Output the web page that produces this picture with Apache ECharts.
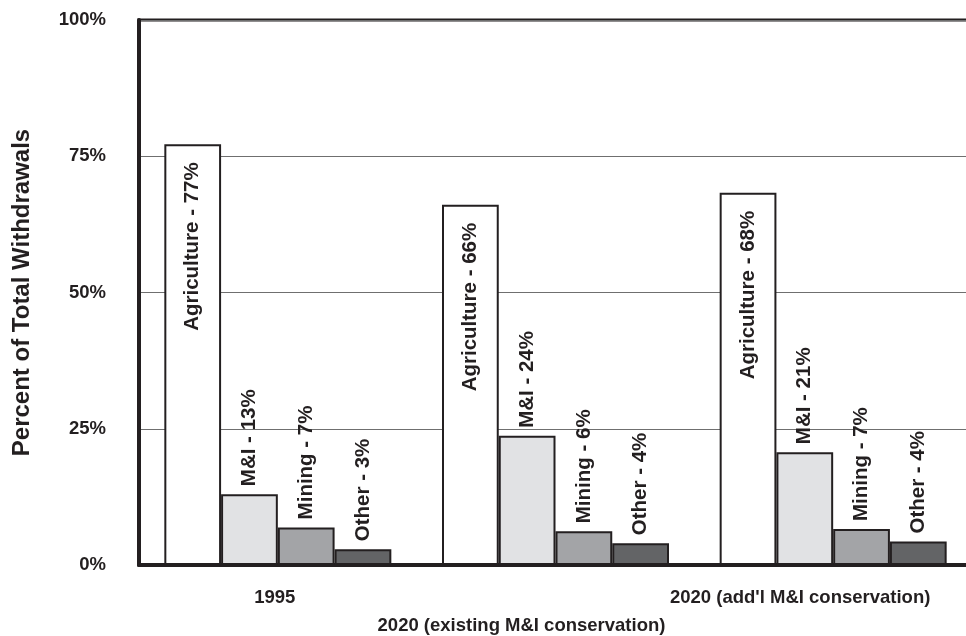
<!DOCTYPE html>
<html>
<head>
<meta charset="utf-8">
<script src="https://cdn.jsdelivr.net/npm/echarts@6/dist/echarts.min.js"></script>
<style>
  html, body { margin: 0; padding: 0; background: #ffffff; }
  #chart { width: 966px; height: 636px; }
</style>
</head>
<body>
<div id="chart"></div>
<script>
// ---- data ----
const categories = ['1995', '2020 (existing M&I conservation)', "2020 (add'l M&I conservation)"];
const agriculture = [77.2, 66.1, 68.3];
const mandi = [13.0, 23.7, 20.7];
const mining = [6.9, 6.2, 6.6];
const other = [2.9, 4.0, 4.3];
const yTicks = [0, 25, 50, 75, 100];
const yTitle = 'Percent of Total Withdrawals';

const FONT = '"Liberation Sans", Arial, Helvetica, sans-serif';
const INK = '#231f20';

function labelText(p) {
  return p.seriesName + ' - ' + Math.round(p.value) + '%';
}

const outsideLabel = {
  show: true,
  position: 'top',
  distance: 8,
  rotate: 90,
  align: 'left',
  verticalAlign: 'middle',
  formatter: labelText,
  fontFamily: FONT,
  fontWeight: 'bold',
  fontSize: 20.5,
  color: INK
};

function makeSeries(name, data, color, label) {
  return {
    type: 'bar',
    name: name,
    data: data,
    barWidth: 56.75,
    barGap: '0%',
    itemStyle: { color: color, borderColor: INK, borderWidth: 2 },
    label: label,
    emphasis: { disabled: true },
    z: 3
  };
}

const chart = echarts.init(document.getElementById('chart'), null, { renderer: 'canvas' });
chart.setOption({
  animation: false,
  backgroundColor: '#ffffff',
  grid: {
    left: 139, top: 20, width: 833, height: 545,
    containLabel: false,
    outerBoundsMode: 'none',
    show: true, borderColor: INK, borderWidth: 3, backgroundColor: 'transparent'
  },
  xAxis: {
    type: 'category',
    data: categories,
    axisLine: { show: true, lineStyle: { color: INK, width: 4 } },
    axisTick: { show: false },
    axisLabel: {
      interval: 0,
      margin: 19,
      lineHeight: 28,
      fontFamily: FONT,
      fontWeight: 'bold',
      fontSize: 18.5,
      color: INK,
      formatter: function (v, i) {
        if (i === 0) return '{a|' + v + '}';
        if (i === 1) return '\n{b|' + v + '}';
        return '{c|' + v + '}';
      },
      rich: {
        a: { fontFamily: FONT, fontWeight: 'bold', fontSize: 18.5, color: INK, lineHeight: 28, padding: [0, 6, 0, 0] },
        b: { fontFamily: FONT, fontWeight: 'bold', fontSize: 18.5, color: INK, lineHeight: 28, padding: [0, 68, 0, 0] },
        c: { fontFamily: FONT, fontWeight: 'bold', fontSize: 18.5, color: INK, lineHeight: 28, padding: [0, 66, 0, 0] }
      }
    }
  },
  yAxis: {
    type: 'value',
    min: yTicks[0],
    max: yTicks[yTicks.length - 1],
    interval: yTicks[1] - yTicks[0],
    name: yTitle,
    nameLocation: 'middle',
    nameRotate: 90,
    nameGap: 105,
    nameTextStyle: { fontFamily: FONT, fontWeight: 'bold', fontSize: 24, color: INK },
    axisLine: { show: true, lineStyle: { color: INK, width: 4 } },
    axisTick: { show: false },
    axisLabel: {
      margin: 33,
      fontFamily: FONT,
      fontWeight: 'bold',
      fontSize: 18.5,
      color: INK,
      formatter: '{value}%'
    },
    splitLine: { show: true, lineStyle: { color: '#6f6f6f', width: 1.2 } }
  },
  series: [
    makeSeries('Agriculture', agriculture, '#ffffff', Object.assign({}, outsideLabel, {
      position: 'insideTop', distance: 18, align: 'right'
    })),
    makeSeries('M&I', mandi, '#e1e2e4', outsideLabel),
    makeSeries('Mining', mining, '#a3a4a7', outsideLabel),
    makeSeries('Other', other, '#636466', outsideLabel)
  ]
});
</script>
</body>
</html>
